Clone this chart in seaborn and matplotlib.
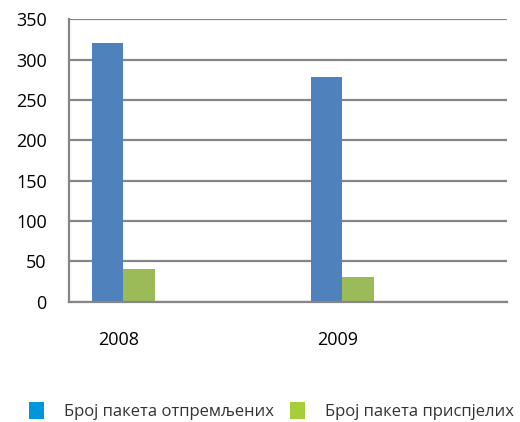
import matplotlib
matplotlib.use("Agg")
import matplotlib.pyplot as plt
import matplotlib.transforms as mtransforms
from matplotlib.patches import Patch
import seaborn as sns
import pandas as pd

# Data
years = ["2008", "2009"]
series = ["Број пакета отпремљених", "Број пакета приспјелих"]
sent = [321, 279]
arrived = [40, 30]

bar_colors = ["#4F81BD", "#9BBB59"]
legend_colors = ["#0096DB", "#A6CE39"]

df = pd.DataFrame({
    "year": years * 2,
    "series": [series[0]] * len(years) + [series[1]] * len(years),
    "value": sent + arrived,
})

sns.set_theme(style="white")
plt.rcParams["font.family"] = ["Open Sans", "DejaVu Sans"]

fig = plt.figure(figsize=(5.2, 4.22), dpi=100)
ax = fig.add_axes([69 / 520, 1 - 301.7 / 422, (506.7 - 69) / 520, (301.7 - 19.3) / 422])

sns.barplot(data=df, x="year", y="value", hue="series", order=years,
            hue_order=series, palette=bar_colors, width=0.286,
            saturation=1, ax=ax, legend=False, edgecolor="none")

ax.set_xlim(-0.249, 1.751)
ax.set_ylim(0, 350)
ax.set_yticks(range(0, 351, 50))
ax.yaxis.grid(True, color="#868686", linewidth=1.6)
ax.set_axisbelow(True)
ax.set_xlabel("")
ax.set_ylabel("")

for side in ["top", "right"]:
    ax.spines[side].set_visible(False)
for side in ["left", "bottom"]:
    ax.spines[side].set_color("#868686")
    ax.spines[side].set_linewidth(1.6)

ax.tick_params(axis="both", length=0, labelsize=13, colors="black")
ax.tick_params(axis="y", pad=16)
ax.tick_params(axis="x", pad=21)

shift = mtransforms.ScaledTranslation(-4.5 / 100, 0, fig.dpi_scale_trans)
for lbl in ax.get_xticklabels():
    lbl.set_transform(lbl.get_transform() + shift)

handles = [Patch(facecolor=c, edgecolor="none") for c in legend_colors]
fig.legend(handles, series, loc="lower left", bbox_to_anchor=(22 / 520, -5 / 422),
           ncol=2, frameon=False, fontsize=12, handlelength=0.9,
           handleheight=1.2, handletextpad=1.25, columnspacing=0.9,
           labelcolor="#333333", borderaxespad=0)

fig.savefig("out.png", dpi=100)
